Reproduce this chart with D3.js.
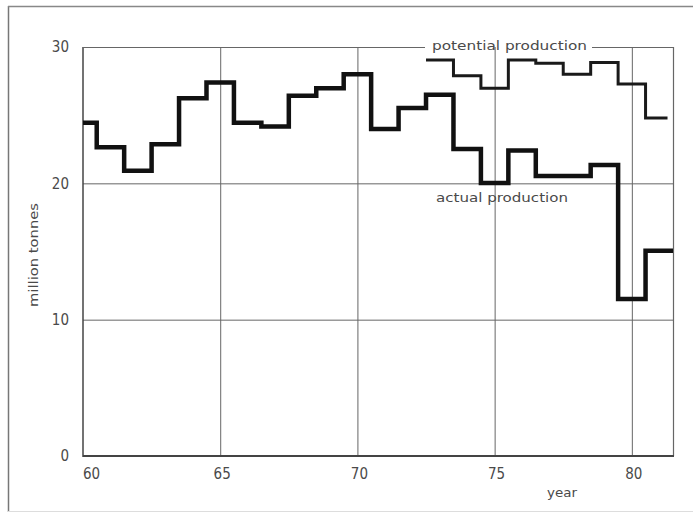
<!DOCTYPE html>
<html><head><meta charset="utf-8">
<script src="https://cdn.jsdelivr.net/npm/d3@7"></script>
<style>
html,body{margin:0;padding:0;background:#fff;}
svg{display:block;}
text{font-family:"DejaVu Sans Condensed","DejaVu Sans",sans-serif;fill:#4a4a4a;}
</style></head>
<body>
<script>
// ---- data ----
const actualYears = [60,61,62,63,64,65,66,67,68,69,70,71,72,73,74,75,76,77,78,79,80,81];
const actualValues = [24.45,22.65,20.93,22.87,26.24,27.39,24.45,24.16,26.43,26.98,28.0,23.99,25.53,26.49,22.52,20.03,22.40,20.54,20.54,21.35,11.52,15.06];
const potentialYears = [73,74,75,76,77,78,79,80,81];
const potentialValues = [29.05,27.9,26.98,29.05,28.81,28.0,28.86,27.29,24.8];
const potentialLastEnd = 81.3;
const xTicks = [60,65,70,75,80];
const xTickLabels = ["60","65","70","75","80"];
const yTicks = [0,10,20,30];
const yTickLabels = ["0","10","20","30"];
const xTitle = "year";
const yTitle = "million tonnes";
const potentialLabel = "potential production";
const actualLabel = "actual production";

// ---- layout ----
const W = 693, H = 514;
const m = {left:83, right:693-673, top:47, bottom:514-456};
const svg = d3.select("body").append("svg").attr("width",W).attr("height",H);

const x = d3.scaleLinear().domain([60,81.5]).range([m.left, W-m.right]);
const y = d3.scaleLinear().domain([0,30]).range([H-m.bottom, m.top]);

// outer frame
svg.append("line").attr("x1",8.5).attr("x2",8.5).attr("y1",6).attr("y2",512).attr("stroke","#777").attr("stroke-width",1.5);
svg.append("line").attr("x1",8).attr("x2",W).attr("y1",6.5).attr("y2",6.5).attr("stroke","#888").attr("stroke-width",1.5);
svg.append("line").attr("x1",8).attr("x2",W).attr("y1",511.5).attr("y2",511.5).attr("stroke","#ddd").attr("stroke-width",1);

// grid
const g = svg.append("g");
g.selectAll("line.vg").data(xTicks.filter(d=>d>60)).join("line")
  .attr("x1",d=>x(d)+0.5).attr("x2",d=>x(d)+0.5).attr("y1",y(30)).attr("y2",y(0))
  .attr("stroke","#666").attr("stroke-width",1);
g.selectAll("line.hg").data(yTicks.filter(d=>d>0 && d<30)).join("line")
  .attr("x1",x(60)).attr("x2",x(81.5)).attr("y1",d=>y(d)+0.5).attr("y2",d=>y(d)+0.5)
  .attr("stroke","#666").attr("stroke-width",1);
// plot frame: right, left, bottom
g.append("line").attr("x1",x(81.5)+0.5).attr("x2",x(81.5)+0.5).attr("y1",y(30)).attr("y2",y(0)).attr("stroke","#666").attr("stroke-width",1.2);
g.append("line").attr("x1",x(60)).attr("x2",x(60)).attr("y1",y(30)).attr("y2",y(0)+1).attr("stroke","#444").attr("stroke-width",1.5);
g.append("line").attr("x1",x(60)).attr("x2",x(81.5)+1).attr("y1",y(0)).attr("y2",y(0)).attr("stroke","#444").attr("stroke-width",2);

// top frame with gap for label
svg.append("text").attr("x",432).attr("y",y(30)+3)
  .attr("font-size",12.5).attr("textLength",155).attr("lengthAdjust","spacingAndGlyphs").text(potentialLabel);
g.append("line").attr("x1",x(60)).attr("x2",425).attr("y1",y(30)+0.5).attr("y2",y(30)+0.5).attr("stroke","#666").attr("stroke-width",1);
g.append("line").attr("x1",592).attr("x2",x(81.5)+1).attr("y1",y(30)+0.5).attr("y2",y(30)+0.5).attr("stroke","#666").attr("stroke-width",1);

// clip
svg.append("clipPath").attr("id","clip").append("rect")
  .attr("x",x(60)).attr("y",0).attr("width",x(81.5)-x(60)+1).attr("height",H);

const line = d3.line().x(d=>x(d[0])).y(d=>y(d[1])).curve(d3.curveStepAfter);

const actPts = actualYears.map((yr,i)=>[yr-0.5, actualValues[i]]);
actPts.push([actualYears[actualYears.length-1]+0.5, actualValues[actualValues.length-1]]);
svg.append("path").attr("d",line(actPts)).attr("clip-path","url(#clip)")
  .attr("fill","none").attr("stroke","#111").attr("stroke-width",4.5).attr("stroke-linejoin","miter");

const potPts = potentialYears.map((yr,i)=>[yr-0.5, potentialValues[i]]);
potPts.push([potentialLastEnd, potentialValues[potentialValues.length-1]]);
svg.append("path").attr("d",line(potPts)).attr("clip-path","url(#clip)")
  .attr("fill","none").attr("stroke","#1a1a1a").attr("stroke-width",3).attr("stroke-linejoin","miter");

// labels
svg.append("text").attr("x",436).attr("y",202).attr("font-size",12.5)
  .attr("textLength",132).attr("lengthAdjust","spacingAndGlyphs").text(actualLabel);

// y tick labels
svg.selectAll("text.yt").data(yTicks).join("text")
  .attr("x",69).attr("y",d=>y(d)).attr("dy","0.36em").attr("text-anchor","end")
  .attr("font-size",15).text((d,i)=>yTickLabels[i]);
// x tick labels
svg.selectAll("text.xt").data(xTicks).join("text")
  .attr("x",(d,i)=> i===0 ? x(d) : x(d)+2).attr("y",y(0)+23)
  .attr("text-anchor",(d,i)=> i===0 ? "start" : "middle")
  .attr("font-size",15).text((d,i)=>xTickLabels[i]);

// axis titles
svg.append("text").attr("x",562).attr("y",497).attr("text-anchor","middle").attr("font-size",12.5)
  .attr("textLength",30).attr("lengthAdjust","spacingAndGlyphs").text(xTitle);
svg.append("text").attr("transform",`translate(38,${255}) rotate(-90)`).attr("text-anchor","middle")
  .attr("font-size",13).attr("textLength",104).attr("lengthAdjust","spacingAndGlyphs").text(yTitle);
</script>
</body></html>
